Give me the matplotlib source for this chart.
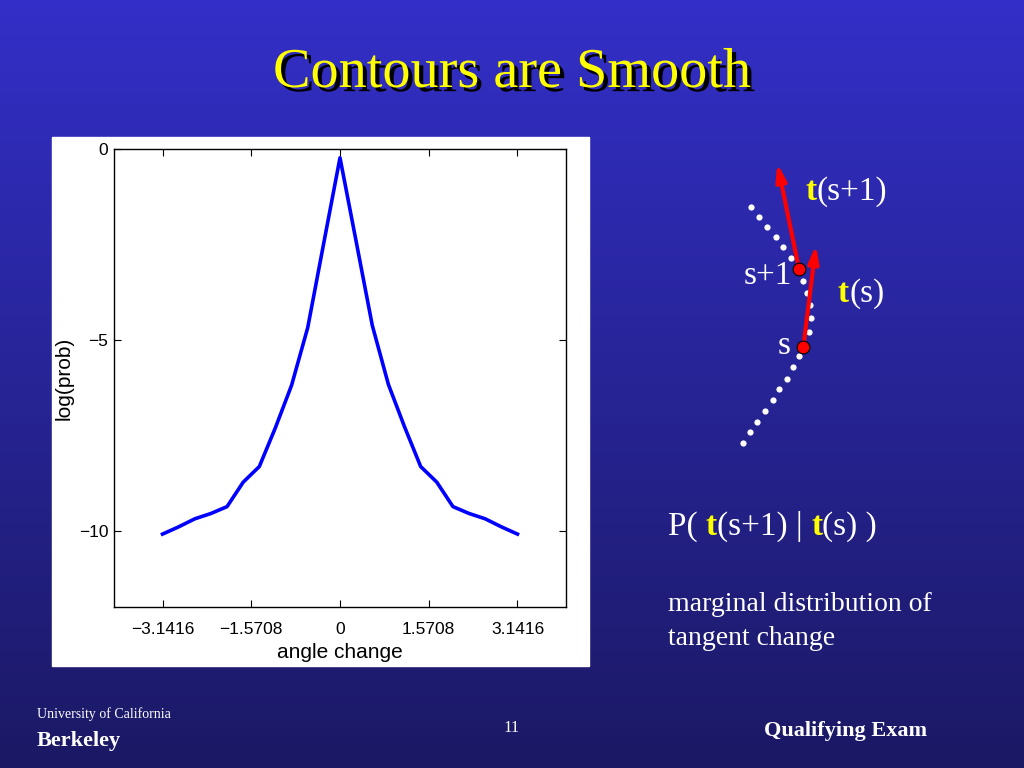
import numpy as np
import matplotlib
matplotlib.use('Agg')
import matplotlib.pyplot as plt
import matplotlib.patheffects as pe
from matplotlib.patches import Rectangle

# log-probability of tangent angle change, sampled every pi/11
angle = np.linspace(-np.pi, np.pi, 23)
logprob = [-10.09, -9.90, -9.69, -9.55, -9.37, -8.73, -8.32, -7.30, -6.19, -4.68, -2.45,
           -0.23,
           -2.42, -4.62, -6.17, -7.28, -8.32, -8.73, -9.37, -9.55, -9.69, -9.90, -10.09]
xtick_vals = [-np.pi, -np.pi / 2, 0, np.pi / 2, np.pi]
xtick_labels = ['\u22123.1416', '\u22121.5708', '0', '1.5708', '3.1416']
ytick_vals = [0, -5, -10]
ytick_labels = ['0', '\u22125', '\u221210']

# sketch of the contour on the right (slide pixel coordinates)
contour_x = [750.7, 759, 767.3, 775.7, 783.3, 790.7, 799, 803.3, 806.7, 810, 811,
             809.3, 803.3, 799.3, 793.3, 786.7, 779.3, 772.7, 765, 757.3, 750, 742.7]
contour_y = [206.7, 216.7, 226.7, 237.3, 247.3, 257.7, 268.3, 280.7, 293.3, 305.3, 318.3,
             331.7, 347.3, 356, 367.3, 378.7, 389.3, 400, 410.7, 421.7, 432, 442.7]
point_x = [799, 803.3]      # s+1, s
point_y = [269, 347.3]
tip_x = [777.3, 816]
tip_y = [163.3, 245]

fig = plt.figure(figsize=(10.24, 7.68), dpi=100)

# slide background
bg = fig.add_axes([0, 0, 1, 1])
top = np.array([51, 47, 200]) / 255.0
bottom = np.array([27, 25, 100]) / 255.0
t = np.linspace(0, 1, 256)[:, None, None]
grad = top * (1 - t) + bottom * t
bg.imshow(np.repeat(grad, 4, axis=1), aspect='auto', extent=[0, 1024, 768, 0])
bg.set_xlim(0, 1024)
bg.set_ylim(768, 0)
bg.axis('off')

# white panel behind the plot
bg.add_patch(Rectangle((52, 137), 537, 529, color='white', zorder=2))

serif = 'Liberation Serif'

# title with shadow
bg.text(512, 73, 'Contours are Smooth', color='#ffff00', fontsize=40.5, family=serif,
        ha='center', va='center', zorder=4,
        path_effects=[pe.withSimplePatchShadow(offset=(3, -3), shadow_rgbFace='black', alpha=1.0)])

# contour sketch
bg.scatter(contour_x, contour_y, s=20, color='white', zorder=3, linewidths=0)
for px, py, tx, ty in zip(point_x, point_y, tip_x, tip_y):
    bg.annotate('', xy=(tx, ty), xytext=(px, py),
                arrowprops=dict(arrowstyle='-|>,head_length=1.0,head_width=0.3',
                                color='#ff0000', lw=3, shrinkA=0, shrinkB=0), zorder=4)
bg.scatter(point_x, point_y, s=85, color='#ff0000', edgecolors='black', linewidths=0.8, zorder=5)


def colored_text(x, y, parts, size):
    prev = None
    for s, color, weight in parts:
        if prev is None:
            prev = bg.text(x, y, s, color=color, fontsize=size, family=serif,
                           weight=weight, va='baseline', zorder=6)
        else:
            prev = bg.annotate(s, xy=(1, 0), xycoords=prev, va='bottom', color=color,
                               fontsize=size, family=serif, weight=weight, zorder=6)


colored_text(805, 200, [('t', '#ffff00', 'bold'), ('(s+1)', 'white', 'normal')], 24)
colored_text(838, 302, [('t', '#ffff00', 'bold'), ('(s)', 'white', 'normal')], 24)
bg.text(744, 284, 's+1', color='white', fontsize=24, family=serif, va='baseline', zorder=6)
bg.text(778, 354, 's', color='white', fontsize=24, family=serif, va='baseline', zorder=6)

colored_text(668, 535, [('P( ', 'white', 'normal'), ('t', '#ffff00', 'bold'),
                        ('(s+1) | ', 'white', 'normal'), ('t', '#ffff00', 'bold'),
                        ('(s) )', 'white', 'normal')], 24)
bg.text(668, 611, 'marginal distribution of', color='white', fontsize=20, family=serif,
        va='baseline', zorder=6)
bg.text(668, 645, 'tangent change', color='white', fontsize=20, family=serif,
        va='baseline', zorder=6)

# footer
bg.text(37, 718, 'University of California', color='white', fontsize=10, family=serif,
        va='baseline', zorder=6)
bg.text(37, 746, 'Berkeley', color='white', fontsize=16, family=serif, weight='bold',
        va='baseline', zorder=6)
bg.text(512, 732, '11', color='white', fontsize=12, family=serif, ha='center',
        va='baseline', zorder=6)
bg.text(927, 736, 'Qualifying Exam', color='white', fontsize=16, family=serif,
        weight='bold', ha='right', va='baseline', zorder=6)

# the plot itself
ax = fig.add_axes([114 / 1024, 1 - 607 / 768, 452 / 1024, 458 / 768])
ax.set_facecolor('white')
ax.plot(angle, logprob, color='#0000ff', lw=2.6)
ax.set_xlim(-4, 4)
ax.set_ylim(-12, 0)
ax.set_xticks(xtick_vals)
ax.set_xticklabels(xtick_labels)
ax.set_yticks(ytick_vals)
ax.set_yticklabels(ytick_labels)
ax.tick_params(direction='in', top=True, right=True, length=5, width=0.8,
               labelsize=12.5)
ax.tick_params(axis='x', pad=11)
ax.tick_params(axis='y', pad=4)
for lab in ax.get_xticklabels() + ax.get_yticklabels():
    lab.set_family('Liberation Sans')
for sp in ax.spines.values():
    sp.set_linewidth(1.0)
ax.set_xlabel('angle change', fontsize=15, family='Liberation Sans', labelpad=4)
ax.set_ylabel('log(prob)', fontsize=15, family='Liberation Sans', labelpad=4)

fig.savefig('out.png', dpi=100)
